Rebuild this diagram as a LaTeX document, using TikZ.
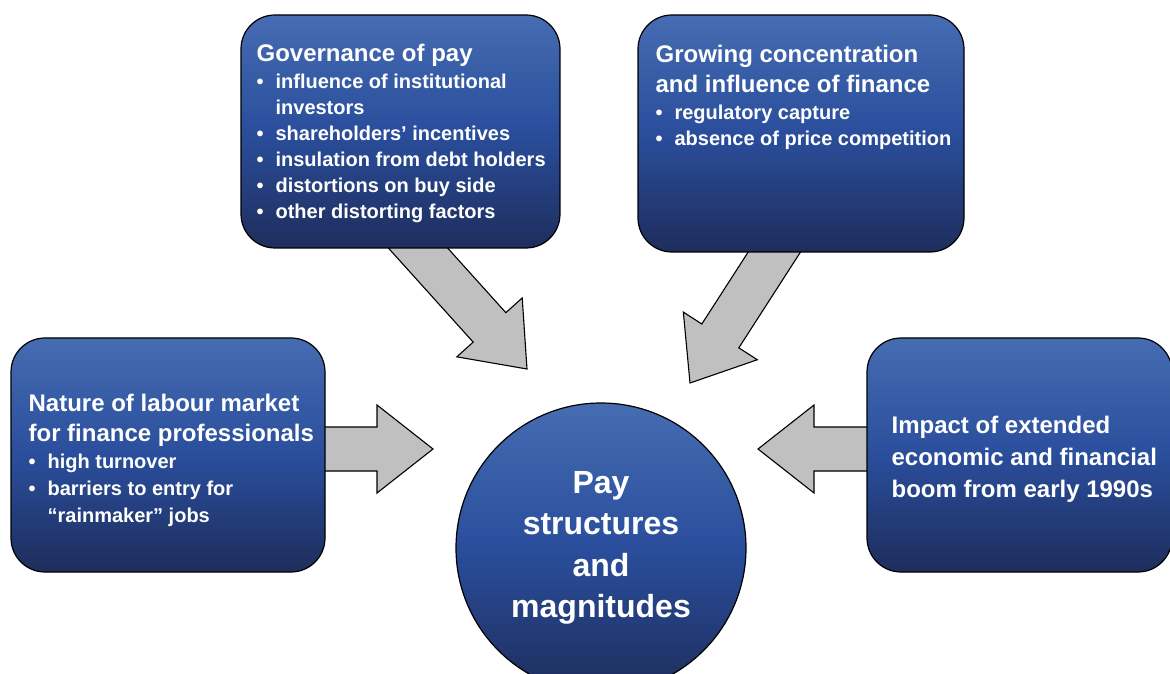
\documentclass[tikz,border=0pt]{standalone}
\usepackage{fontspec}
\setmainfont{Liberation Sans}
\usetikzlibrary{calc,positioning,backgrounds}

\definecolor{boxtop}{RGB}{70,108,178}
\definecolor{boxmid}{RGB}{42,78,156}
\definecolor{boxbot}{RGB}{30,45,92}
\definecolor{arrowgray}{RGB}{192,192,192}

% font sizes; \spaceskip=0pt gives back the font's own word spaces
\newcommand{\titlefont}{\fontsize{24}{30}\selectfont\spaceskip=0pt\xspaceskip=0pt}
\newcommand{\itemfont}{\fontsize{20}{26}\selectfont\spaceskip=0pt\xspaceskip=0pt}
% bullet line with hanging indent for wrapped text
\newcommand{\bpoint}[1]{\par\hangindent=19pt\hangafter=1\noindent\makebox[19pt][l]{\textbullet}#1}
% fat grey arrow from tail coordinate #1 to tip coordinate #2
\newcommand{\bigarrow}[2]{%
  \coordinate (hb) at ($(#2)!56pt!(#1)$);
  \draw[fatarrow] ($(#1)!22pt!90:(#2)$) -- ($(hb)!22pt!90:(#2)$) -- ($(hb)!44pt!90:(#2)$) -- (#2)
    -- ($(hb)!44pt!-90:(#2)$) -- ($(hb)!22pt!-90:(#2)$) -- ($(#1)!22pt!-90:(#2)$) -- cycle;}

\tikzset{
  panel/.style={draw=black,line width=1.2pt,rounded corners=34pt,top color=boxtop,bottom color=boxbot,middle color=boxmid,inner sep=0pt},
  paneltext/.style={anchor=north west,inner sep=0pt,text=white,font=\bfseries,text width=#1,
    execute at begin node={\parindent=0pt\parskip=0pt\raggedright}},
  hub/.style={circle,draw=black,line width=1.2pt,top color=boxtop,bottom color=boxbot,middle color=boxmid,
    minimum size=290pt,inner sep=0pt,text=white,align=center,font=\fontsize{32}{41.5}\selectfont\bfseries},
  fatarrow/.style={draw=black,line width=1.1pt,fill=arrowgray,line join=miter}
}

\begin{document}
\begin{tikzpicture}[x=1pt,y=1pt]
\useasboundingbox (0,0) rectangle (1170,673);
\clip (0,0) rectangle (1170,673);

% the four driver boxes and the hub
\node[panel,minimum width=319pt,minimum height=233pt] (gov) at (400.5,541.5) {};
\node[panel,minimum width=326pt,minimum height=237pt] (fin) at (801,539.5) {};
\node[panel,minimum width=314pt,minimum height=234pt] (lab) at (168,218) {};
\node[panel,minimum width=305pt,minimum height=234pt] (boom) at (1019.5,218) {};
\node[hub] (pay) at (601,125) {Pay\\structures\\and\\magnitudes};

\node[paneltext=300pt,below right=30pt and 16pt of gov.north west] (govtxt) {%
  \titlefont Governance of pay\par
  \itemfont\vspace{1pt}%
  \bpoint{influence of institutional\newline investors}
  \bpoint{shareholders’ incentives}
  \bpoint{insulation from debt holders}
  \bpoint{distortions on buy side}
  \bpoint{other distorting factors}\par};
\node[paneltext=300pt,below right=31pt and 18pt of fin.north west] (fintxt) {%
  \titlefont Growing concentration\newline and influence of finance\par
  \itemfont\vspace{1pt}%
  \bpoint{regulatory capture}
  \bpoint{absence of price competition}\par};
\node[paneltext=300pt,below right=57pt and 18pt of lab.north west] (labtxt) {%
  \titlefont Nature of labour market\newline for finance professionals\par
  \itemfont\baselineskip=27pt
  \bpoint{high turnover}
  \bpoint{barriers to entry for\newline “rainmaker” jobs}\par};
\node[paneltext=290pt,below right=79pt and 25pt of boom.north west] (boomtxt) {%
  \titlefont\baselineskip=32pt Impact of extended\newline economic and financial\newline boom from early 1990s\par};

% arrows into the hub
\coordinate (govtail) at ($(gov.south)+(0,20)$);
\coordinate (govtip) at (527,304);
\coordinate (fintail) at ($(fin.south)+(-13.5,21)$);
\coordinate (fintip) at (690,290);
\coordinate (labtail) at ($(lab.east)+(-10,6)$);
\coordinate (labtip) at (433,224);
\coordinate (boomtail) at ($(boom.west)+(10,6)$);
\coordinate (boomtip) at (758,224);
\begin{scope}[on background layer]
\bigarrow{govtail}{govtip}
\bigarrow{fintail}{fintip}
\bigarrow{labtail}{labtip}
\bigarrow{boomtail}{boomtip}
\end{scope}
\end{tikzpicture}
\end{document}
